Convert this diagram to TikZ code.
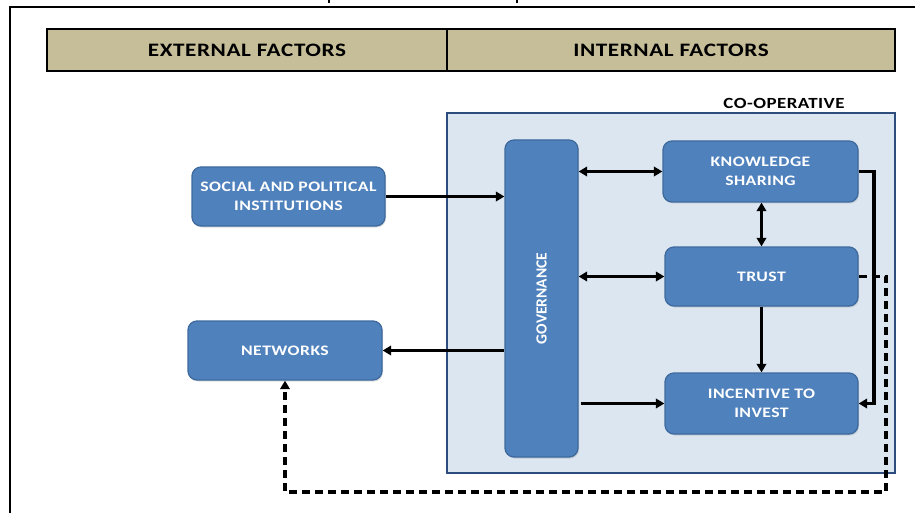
\documentclass[tikz,border=0pt]{standalone}
\usepackage{fontspec}
\setmainfont{Carlito}
\newfontfamily\wfont[FakeStretch=1.22, LetterSpace=3]{Carlito}
\usetikzlibrary{arrows.meta,shadows}
\definecolor{boxfill}{HTML}{4F81BD}
\definecolor{boxline}{HTML}{3E6A9E}
\definecolor{coopfill}{HTML}{DCE6F1}
\definecolor{coopline}{HTML}{2C4D7D}
\definecolor{headfill}{HTML}{C6BE98}
\begin{document}
\begin{tikzpicture}[x=1pt,y=-1pt,
  bbox/.style={draw=boxline, line width=1.3pt, fill=boxfill, rounded corners=9pt,
    text=white, font=\wfont\bfseries\fontsize{14.5}{19}\selectfont, align=center, inner sep=0pt,
    drop shadow={shadow xshift=1pt, shadow yshift=-1.5pt, opacity=0.25}},
  headbox/.style={draw=black, line width=2.2pt, fill=headfill, inner sep=0pt,
    font=\wfont\bfseries\fontsize{19}{22}\selectfont, minimum height=42pt},
  conn/.style={line width=3.2pt, -{Triangle[length=8.5pt,width=9.5pt]}},
  bconn/.style={line width=3.2pt, {Triangle[length=8.5pt,width=9.5pt]}-{Triangle[length=8.5pt,width=9.5pt]}},
  dconn/.style={line width=3.2pt, dash pattern=on 8pt off 5pt, -{Triangle[length=8.5pt,width=9.5pt]}}]
\useasboundingbox (0,0) rectangle (915,513);
% outer frame
\draw[line width=2.2pt] (10,513) -- (10,7) -- (915,7);
\draw[line width=1.5pt] (329,0) -- (329,3);
\draw[line width=1.5pt] (517,0) -- (517,3);
% header
\node[headbox, minimum width=400pt] (ext) at (247,50) {EXTERNAL FACTORS};
\node[headbox, minimum width=448pt] (int) at (671,50) {INTERNAL FACTORS};
% co-operative box
\node[draw=coopline, line width=1.8pt, fill=coopfill, minimum width=448pt, minimum height=360pt, inner sep=0pt] (coop) at (671,293) {};
\node[font=\wfont\bfseries\fontsize{15.5}{17}\selectfont] (cooplabel) at (784,103) {CO-OPERATIVE};
% nodes
\node[bbox, minimum width=193pt, minimum height=59pt] (social) at (288.5,196.5) {SOCIAL AND POLITICAL\\INSTITUTIONS};
\node[bbox, minimum width=194pt, minimum height=59pt] (net) at (285,350.5) {NETWORKS};
\node[bbox, minimum width=73pt, minimum height=317pt] (gov) at (541.5,298.5) {};
\node[text=white, font=\bfseries\fontsize{15.5}{17}\selectfont, rotate=90] (govlabel) at (541.5,298.5) {GOVERNANCE};
\node[bbox, minimum width=195pt, minimum height=61pt] (ks) at (760.5,171.5) {KNOWLEDGE\\SHARING};
\node[bbox, minimum width=193pt, minimum height=59pt] (trust) at (761.5,276.5) {TRUST};
\node[bbox, minimum width=193pt, minimum height=61pt] (inc) at (761.5,403.5) {INCENTIVE TO\\INVEST};
% connectors
\draw[conn] (social.east) -- (social.east -| gov.west);
\draw[bconn] (gov.east |- ks.west) -- (ks.west);
\draw[bconn] (gov.east |- trust.west) -- (trust.west);
\draw[bconn] (trust.north |- ks.south) -- (trust.north);
\draw[conn] (trust.south) -- (inc.north);
\draw[conn] ([xshift=2pt]gov.east |- inc.west) -- (inc.west);
\draw[conn] (gov.west |- net.east) -- (net.east);
\coordinate (k1) at (874,171.5);
\draw[conn] (ks.east) -- (k1) |- (inc.east);
\coordinate (d1) at (886,492);
\draw[dconn] (trust.east) -| (d1) -| (net.south);
\end{tikzpicture}
\end{document}
